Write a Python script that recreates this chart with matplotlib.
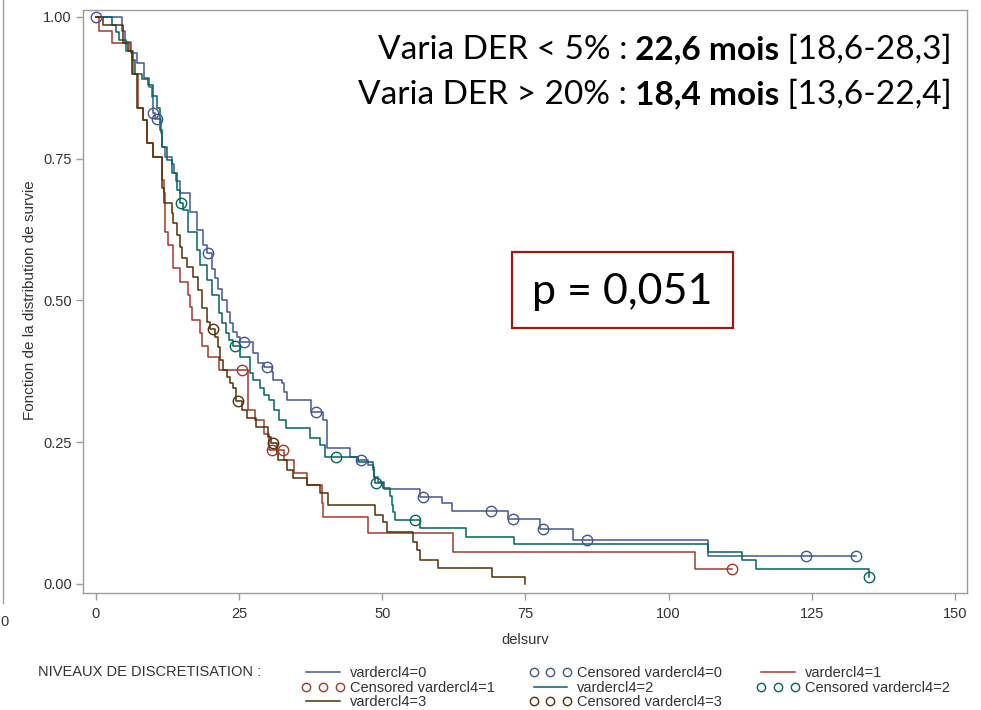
import numpy as np
import matplotlib
matplotlib.use("Agg")
import matplotlib.pyplot as plt
from matplotlib.lines import Line2D
from matplotlib.patches import Rectangle

# ---------------- data ----------------
groups = ["vardercl4=0", "vardercl4=1", "vardercl4=2", "vardercl4=3"]
colors = ["#445694", "#A23A2E", "#01665E", "#543005"]

g0_event_t = [4.5, 5.0, 6.1, 7.2, 8.4, 9.2, 9.7, 9.9, 10.3, 11.3, 11.6, 12.0, 13.2, 13.7,
              14.0, 14.7, 16.4, 17.6, 18.6, 19.4, 20.2, 20.8, 21.3, 22.0, 22.9, 23.4, 24.0,
              24.6, 25.2, 27.4, 28.3, 29.3, 30.8, 30.9, 32.5, 32.9, 33.4, 37.6, 39.6, 40.3,
              44.4, 45.7, 47.5, 48.3, 48.6, 49.3, 50.3, 56.6, 60.4, 62.2, 71.9, 77.5, 83.3, 106.9]
g0_event_s = [0.975, 0.955, 0.937, 0.919, 0.893, 0.877, 0.859, 0.830, 0.820, 0.795, 0.770,
              0.753, 0.740, 0.725, 0.710, 0.690, 0.656, 0.624, 0.598, 0.584, 0.555, 0.540,
              0.520, 0.500, 0.480, 0.460, 0.445, 0.435, 0.427, 0.407, 0.390, 0.382, 0.374,
              0.360, 0.354, 0.339, 0.325, 0.303, 0.289, 0.240, 0.224, 0.219, 0.210, 0.201,
              0.189, 0.180, 0.168, 0.153, 0.143, 0.129, 0.115, 0.097, 0.078, 0.049]
g0_cens_t = [0.0, 10.0, 10.6, 19.6, 25.8, 29.9, 38.4, 46.3, 57.1, 69.0, 72.8, 78.1, 85.7,
             124.0, 132.7]

g1_event_t = [0.5, 2.8, 5.9, 6.4, 7.3, 8.2, 8.9, 10.0, 11.5, 11.6, 11.9, 12.0, 12.6, 13.4,
              14.7, 16.1, 16.4, 16.8, 18.2, 18.5, 19.6, 21.5, 26.5, 27.8, 29.3, 30.2, 32.8,
              34.6, 36.9, 39.4, 39.6, 47.5, 62.3, 104.6]
g1_event_s = [0.975, 0.954, 0.940, 0.900, 0.840, 0.818, 0.778, 0.753, 0.725, 0.712, 0.690,
              0.620, 0.598, 0.557, 0.533, 0.510, 0.489, 0.466, 0.443, 0.420, 0.400, 0.377,
              0.307, 0.290, 0.265, 0.236, 0.219, 0.196, 0.175, 0.143, 0.118, 0.090, 0.056,
              0.026]
g1_cens_t = [25.5, 30.7, 32.6, 111.0]

g2_event_t = [2.8, 3.5, 4.0, 5.2, 6.3, 6.8, 8.0, 9.1, 10.0, 10.6, 11.2, 11.5, 12.4, 13.3,
              14.1, 14.6, 15.2, 16.0, 16.1, 17.6, 18.2, 19.3, 20.3, 21.5, 22.0, 22.7, 23.2,
              23.9, 25.2, 26.9, 27.4, 28.6, 29.4, 30.2, 31.1, 31.9, 33.2, 37.4, 39.1, 40.0,
              45.7, 48.4, 48.6, 48.8, 50.1, 51.4, 51.7, 51.9, 52.2, 56.6, 64.6, 73.0, 106.9,
              112.8, 115.2, 135.0]
g2_event_s = [0.986, 0.974, 0.960, 0.940, 0.924, 0.900, 0.890, 0.880, 0.860, 0.840, 0.800,
              0.770, 0.748, 0.725, 0.695, 0.672, 0.660, 0.637, 0.620, 0.589, 0.563, 0.536,
              0.510, 0.478, 0.460, 0.443, 0.430, 0.420, 0.400, 0.372, 0.360, 0.346, 0.333,
              0.325, 0.307, 0.290, 0.275, 0.257, 0.245, 0.224, 0.215, 0.206, 0.189, 0.178,
              0.169, 0.155, 0.139, 0.127, 0.113, 0.099, 0.083, 0.071, 0.056, 0.042, 0.026,
              0.012]
g2_cens_t = [14.8, 24.3, 41.9, 48.9, 55.7, 135.0]

g3_event_t = [1.2, 4.7, 5.6, 6.3, 7.2, 8.2, 8.9, 10.0, 11.5, 11.6, 11.8, 13.3, 13.4, 14.1,
              14.7, 15.0, 15.9, 16.9, 17.8, 18.5, 19.4, 19.9, 20.8, 21.3, 21.6, 22.2, 22.9,
              23.4, 23.9, 24.4, 25.5, 26.4, 27.9, 30.0, 30.5, 31.6, 31.8, 33.4, 34.4, 36.8,
              39.1, 40.5, 48.7, 50.1, 50.8, 55.4, 56.0, 56.6, 59.7, 69.1, 74.9]
g3_event_s = [0.986, 0.954, 0.940, 0.900, 0.840, 0.818, 0.778, 0.753, 0.725, 0.698, 0.672,
              0.654, 0.637, 0.616, 0.594, 0.575, 0.559, 0.541, 0.518, 0.487, 0.462, 0.450,
              0.436, 0.418, 0.395, 0.377, 0.365, 0.354, 0.345, 0.323, 0.307, 0.293, 0.277,
              0.259, 0.249, 0.231, 0.219, 0.201, 0.187, 0.175, 0.160, 0.139, 0.122, 0.109,
              0.092, 0.074, 0.060, 0.042, 0.028, 0.012, 0.0]
g3_cens_t = [20.4, 24.8, 30.9]

event_t = [g0_event_t, g1_event_t, g2_event_t, g3_event_t]
event_s = [g0_event_s, g1_event_s, g2_event_s, g3_event_s]
cens_t = [g0_cens_t, g1_cens_t, g2_cens_t, g3_cens_t]

xticks = [0, 25, 50, 75, 100, 125, 150]
yticks = [0.0, 0.25, 0.50, 0.75, 1.0]
ytick_labels = ["0.00", "0.25", "0.50", "0.75", "1.00"]

line1 = ("Varia DER < 5% :", " 22,6 mois", " [18,6-28,3]")
line2 = ("Varia DER > 20% :", " 18,4 mois", " [13,6-22,4]")
p_text = "p = 0,051"

# ---------------- figure ----------------
W, H = 981, 710
fig = plt.figure(figsize=(W / 100, H / 100), dpi=100)
ax = fig.add_axes([83 / W, 1 - 593 / H, (967 - 83) / W, (593 - 10) / H])

sans = ["Liberation Sans", "DejaVu Sans"]
grey = "#9c9c9c"
txt = "#333333"

for i in range(4):
    et = np.array(event_t[i])
    es = np.array(event_s[i])
    ct = np.array(cens_t[i])
    end = max(et.max(), ct.max())
    tt = np.concatenate([[0.0], et, [end]])
    ss = np.concatenate([[1.0], es, [es[-1]]])
    ax.step(tt, ss, where="post", color=colors[i], lw=1.1, zorder=3 + i * 0.1)
    idx = np.searchsorted(tt[:-1], ct, side="right") - 1
    cs = ss[idx]
    ax.plot(ct, cs, ls="none", marker="o", ms=7.5, mfc="none", mec=colors[i], mew=1.0,
            zorder=4)

ax.set_xlim(-2.27, 152.1)
ax.set_ylim(-0.0159, 1.0123)
ax.set_xticks(xticks)
ax.set_yticks(yticks)
ax.set_yticklabels(ytick_labels)
for sp in ax.spines.values():
    sp.set_color(grey)
    sp.set_linewidth(1.0)
ax.tick_params(direction="out", length=5, width=1, color=grey, labelcolor=txt,
               labelsize=10.5)
ax.tick_params(axis="x", pad=5)
ax.tick_params(axis="y", pad=3)
for lab in ax.get_xticklabels() + ax.get_yticklabels():
    lab.set_family(sans)

fig.text(30 / W, 1 - 300 / H, "Fonction de la distribution de survie", rotation=90,
         ha="center", va="center", fontsize=11, color=txt, family=sans)
fig.text(525 / W, 1 - 640 / H, "delsurv", ha="center", va="center", fontsize=10.5,
         color=txt, family=sans)

# left-edge artefact of neighbouring panel
fig.add_artist(Line2D([3 / W, 3 / W], [1 - 603 / H, 1.0], transform=fig.transFigure,
                      color=grey, lw=1.0))
fig.text(0.5 / W, 1 - 622 / H, "0", ha="left", va="center", fontsize=10.5, color=txt,
         family=sans)

# ---------------- annotations ----------------
fig.canvas.draw()
renderer = fig.canvas.get_renderer()
afont = ["Lato", "DejaVu Sans"]
asize = 24


def rich_line(parts, xr, ybase):
    x = xr
    weights = ["normal", "bold", "normal"]
    for part, wgt in reversed(list(zip(parts, weights))):
        t = fig.text(x / W, 1 - ybase / H, part, ha="right", va="baseline",
                     fontsize=asize, fontweight=wgt, family=afont, color="black")
        bb = t.get_window_extent(renderer=renderer)
        x = x - bb.width


rich_line(line1, 952, 59)
rich_line(line2, 952, 104)

fig.add_artist(Rectangle((512 / W, 1 - 328 / H), (733 - 512) / W, (328 - 252) / H,
                         transform=fig.transFigure, fill=False, ec="#9B1C0F", lw=1.6))
fig.text(622 / W, 1 - 292 / H, p_text, ha="center", va="center", fontsize=31,
         family=afont, color="black")

# ---------------- legend ----------------
handles, labels = [], []
for i in range(4):
    handles.append(Line2D([], [], color=colors[i], lw=1.1))
    labels.append(groups[i])
    handles.append(Line2D([], [], ls="none", marker="o", ms=6, mfc="none",
                          mec=colors[i], mew=1.0))
    labels.append("Censored " + groups[i])
# SAS fills row-major (3 per row); matplotlib fills columns, so reorder
order = [0, 3, 6, 1, 4, 7, 2, 5]
handles = [handles[k] for k in order]
labels = [labels[k] for k in order]

leg = fig.legend(handles, labels, ncol=3, loc="upper left",
                 bbox_to_anchor=(302 / W, 1 - 666 / H), frameon=False,
                 prop={"family": sans, "size": 10.5}, handlelength=2.9,
                 handletextpad=0.4, columnspacing=2.35, labelspacing=0.05,
                 numpoints=3, borderpad=0, borderaxespad=0)
for t in leg.get_texts():
    t.set_color(txt)

fig.text(38 / W, 1 - 672 / H, "NIVEAUX DE DISCRETISATION :", ha="left", va="center",
         fontsize=10.5, color=txt, family=sans)

fig.savefig("out.png", dpi=100)
